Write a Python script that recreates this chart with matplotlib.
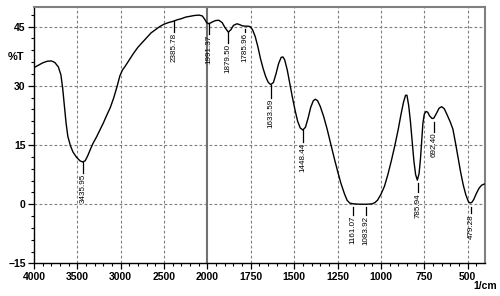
import numpy as np
import matplotlib
matplotlib.use('Agg')
import matplotlib.pyplot as plt
from matplotlib.ticker import FixedLocator

plt.rcParams['font.family'] = ['Liberation Sans', 'DejaVu Sans']

# spectrum (wavenumber 1/cm, %T)
wavenumber = [4000, 3950, 3900, 3850, 3800, 3760, 3720, 3690, 3670, 3650, 3630, 3610,
              3580, 3550, 3510, 3470, 3440, 3410, 3380, 3350, 3320, 3280, 3240, 3200,
              3160, 3120, 3080, 3040, 3010, 2980, 2950, 2900, 2850, 2800, 2750, 2700,
              2650, 2600, 2550, 2500, 2450, 2400, 2350, 2300, 2250, 2200, 2150, 2100,
              2060, 2030, 2010, 1991, 1975, 1955, 1935, 1915, 1900, 1880, 1865, 1850,
              1830, 1815, 1800, 1786, 1770, 1755, 1740, 1725, 1710, 1695, 1680, 1665,
              1650, 1636, 1620, 1605, 1590, 1575, 1565, 1555, 1540, 1525, 1510, 1495,
              1480, 1465, 1450, 1435, 1420, 1405, 1390, 1378, 1365, 1350, 1330, 1310,
              1290, 1270, 1250, 1230, 1210, 1195, 1180, 1160, 1120, 1080, 1050, 1035,
              1020, 1000, 980, 960, 940, 920, 900, 885, 870, 858, 850, 840, 830, 820,
              810, 800, 790, 780, 772, 765, 758, 750, 740, 730, 720, 705, 695, 680,
              665, 650, 635, 620, 600, 585, 570, 555, 540, 525, 510, 495, 485, 475,
              465, 450, 435, 420, 405]
transmittance = [34.6, 35.2, 35.8, 36.2, 36.3, 35.9, 34.8, 32.8, 29.5, 25.0, 20.5, 17.2,
                 14.8, 13.2, 11.9, 11.0, 10.7, 11.0, 12.3, 13.9, 15.4, 17.0, 18.8, 20.6,
                 22.6, 24.5, 27.0, 30.0, 32.5, 34.0, 34.9, 36.6, 38.3, 39.8, 41.0, 42.2,
                 43.4, 44.2, 45.0, 45.6, 46.0, 46.3, 46.7, 47.0, 47.4, 47.6, 47.8, 47.9,
                 47.7, 46.8, 46.0, 45.7, 46.1, 46.5, 46.6, 46.0, 44.8, 43.6, 44.2, 45.3,
                 45.7, 45.5, 45.2, 45.1, 45.1, 45.0, 44.2, 42.5, 40.0, 37.0, 34.5, 32.4,
                 30.9, 30.3, 30.8, 33.0, 35.6, 37.2, 37.3, 36.6, 34.0, 30.5, 27.0, 23.8,
                 21.0, 19.3, 18.8, 19.5, 21.8, 24.5, 26.2, 26.6, 26.2, 24.8, 22.2, 19.0,
                 15.4, 11.8, 8.4, 5.2, 2.6, 1.0, 0.3, 0.1, 0.0, 0.0, 0.1, 0.4,
                 1.0, 2.5, 4.5, 7.5, 11.0, 14.8, 19.0, 22.6, 25.8, 27.6, 27.6, 25.0, 21.0, 16.0,
                 11.0, 7.5, 6.1, 7.8, 11.5, 16.0, 20.5, 22.8, 23.5, 23.3, 22.4, 21.7, 21.8, 23.0,
                 24.3, 24.7, 24.2, 22.8, 20.8, 19.0, 15.5, 11.8, 8.0, 4.8, 2.3, 0.6, 0.3, 0.5,
                 1.2, 2.7, 4.0, 4.8, 5.1]

# peak labels: position, line top and text top (%T)
peak_labels = ['3435.95', '2385.78', '1991.37', '1879.50', '1785.96', '1633.59',
               '1448.44', '1161.07', '1083.92', '785.94', '692.40', '479.28']
peak_wn = [3435.95, 2385.78, 1991.37, 1879.50, 1785.96, 1633.59,
           1448.44, 1161.07, 1083.92, 785.94, 692.40, 479.28]
line_top = [10.7, 46.3, 45.8, 43.5, 44.5, 30.2, 18.8, -0.7, -0.7, 5.3, 20.9, -0.7]
text_top = [7.9, 43.5, 43.0, 40.9, 43.5, 26.9, 15.8, -2.8, -2.8, 3.0, 18.3, -2.3]

x_major = [4000, 3500, 3000, 2500, 2000, 1750, 1500, 1250, 1000, 750, 500]
y_major = [-15, 0, 15, 30, 45]


# scale is doubled below 2000 1/cm
def fwd(x):
    x = np.asarray(x, dtype=float)
    return np.where(x > 2000, 2000 + (x - 2000) / 2.0, x)


def inv(y):
    y = np.asarray(y, dtype=float)
    return np.where(y > 2000, 2000 + (y - 2000) * 2.0, y)


fig = plt.figure(figsize=(5, 2.96), dpi=100)
ax = fig.add_axes([0.068, 0.110, 0.902, 0.867])
ax.set_xscale('function', functions=(fwd, inv))
ax.set_xlim(4000, 400)
ax.set_ylim(-15, 50)

grid_color = '#7f7f7f'
for x in x_major:
    if x in (4000, 2000):
        continue
    ax.axvline(x, color=grid_color, lw=0.8, ls=(0, (2.5, 2)), zorder=1)
for y in y_major[1:]:
    ax.axhline(y, color=grid_color, lw=0.8, ls=(0, (2.5, 2)), zorder=1)
ax.axvline(2000, color='#707070', lw=1.5, zorder=1)

ax.plot(wavenumber, transmittance, color='black', lw=1.0, zorder=3)

for lab, wn, lt, tt in zip(peak_labels, peak_wn, line_top, text_top):
    ax.plot([wn, wn], [lt, tt], color='black', lw=0.9, zorder=3)
    ax.text(wn, tt - 0.2, lab, rotation=90, ha='center', va='top', fontsize=5.8, zorder=4)

ax.xaxis.set_major_locator(FixedLocator(x_major))
ax.set_xticklabels([str(v) for v in x_major])
minor_x = list(range(3900, 2000, -100)) + list(range(1950, 400, -50))
ax.xaxis.set_minor_locator(FixedLocator(minor_x))
ax.yaxis.set_major_locator(FixedLocator(y_major))
ax.yaxis.set_minor_locator(FixedLocator(list(range(-12, 50, 3))))

ax.tick_params(which='major', length=4.5, width=0.9, pad=1.5, labelsize=7.5)
ax.tick_params(which='minor', length=2.5, width=0.8)
for lbl in ax.get_xticklabels() + ax.get_yticklabels():
    lbl.set_fontweight('bold')

ax.spines['left'].set_linewidth(1.0)
ax.spines['bottom'].set_linewidth(1.0)
for s in ('top', 'right'):
    ax.spines[s].set_color('#808080')
    ax.spines[s].set_linewidth(1.5)

fig.text(16 / 500, 1 - 57 / 296, '%T', ha='center', va='center', fontsize=8, fontweight='bold')
fig.text(497 / 500, 1 - 286 / 296, '1/cm', ha='right', va='center', fontsize=7.5, fontweight='bold')

fig.savefig('out.png', dpi=100)
